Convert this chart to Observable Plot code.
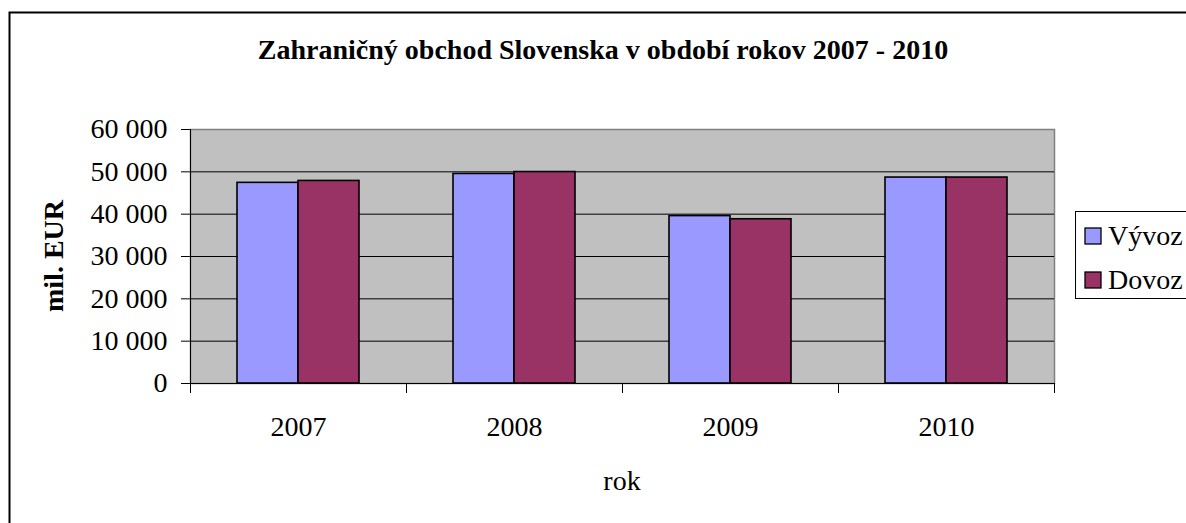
<!DOCTYPE html>
<html>
<head>
<meta charset="utf-8">
<script src="https://cdn.jsdelivr.net/npm/d3@7"></script>
<script src="https://cdn.jsdelivr.net/npm/@observablehq/plot@0.6"></script>
<style>
  html, body { margin: 0; padding: 0; background: #fff; }
  #chart { width: 1186px; height: 523px; overflow: hidden; }
  .boldserif { font-family: "Liberation Serif"; font-weight: 700; font-size: 28px; }
</style>
</head>
<body>
<div id="chart"></div>
<script>
// ---- data ----
const years = ["2007", "2008", "2009", "2010"];
const seriesNames = ["Vývoz", "Dovoz"];
const vyvoz = [47400, 49500, 39550, 48650];
const dovoz = [47850, 49950, 38800, 48650];
const yTicks = [0, 10000, 20000, 30000, 40000, 50000, 60000];
const titleText = "Zahraničný obchod Slovenska v období rokov 2007 - 2010";
const yLabel = "mil. EUR";
const xLabel = "rok";
const colors = ["#9999ff", "#993366"];

const rows = [];
years.forEach((yr, i) => {
  rows.push({year: yr, series: seriesNames[0], value: vyvoz[i]});
  rows.push({year: yr, series: seriesNames[1], value: dovoz[i]});
});

// ---- layout ----
const W = 1186, H = 523;
const mL = 189, mR = 131, mT = 129, mB = 140;
const plotH = H - mT - mB;
const font = "Liberation Serif";
const fmt = d => d3.format(",")(d).replace(/,/g, " ");

const chart = Plot.plot({
  width: W,
  height: H,
  marginLeft: mL,
  marginRight: mR,
  marginTop: mT,
  marginBottom: mB,
  style: {fontFamily: font, fontSize: "28px", color: "#000", background: "transparent"},
  fx: {domain: years, padding: 0, tickSize: 0, tickPadding: 33, label: null},
  x: {domain: seriesNames, paddingInner: 0, paddingOuter: 0.746, axis: null},
  y: {domain: [0, 60000], ticks: yTicks, tickFormat: fmt, tickSize: 9, tickPadding: 14, label: null},
  color: {domain: seriesNames, range: colors},
  marks: [
    Plot.frame({facet: "super", fill: "#c0c0c0", stroke: "#808080", strokeWidth: 1.5}),
    Plot.ruleY(yTicks.filter(t => t > 0 && t < 60000), {stroke: "#000", strokeWidth: 1}),
    Plot.barY(rows, {fx: "year", x: "series", y: "value", fill: "series", stroke: "#000", strokeWidth: 1.6}),
    Plot.frame({facet: "super", anchor: "left", stroke: "#000", strokeWidth: 1}),
    Plot.frame({facet: "super", anchor: "bottom", stroke: "#000", strokeWidth: 1}),
    Plot.frame({anchor: "left", insetTop: plotH, insetBottom: -9, stroke: "#000", strokeWidth: 1}),
    Plot.frame({anchor: "right", insetTop: plotH, insetBottom: -9, stroke: "#000", strokeWidth: 1})
  ]
});

document.getElementById("chart").appendChild(chart);

// ---- decorations: outer frame, title, axis titles, legend ----
const svg = d3.select(chart.tagName.toLowerCase() === "svg" ? chart : chart.querySelector("svg"));

svg.insert("rect", ":first-child")
  .attr("x", 9.5).attr("y", 12.5)
  .attr("width", W + 50).attr("height", H + 50)
  .attr("fill", "#fff").attr("stroke", "#000").attr("stroke-width", 2);

svg.append("text")
  .attr("class", "boldserif")
  .attr("x", 603).attr("y", 59)
  .attr("text-anchor", "middle")
  .attr("fill", "#000")
  .text(titleText);

svg.append("text")
  .attr("class", "boldserif")
  .attr("transform", `translate(63,256) rotate(-90)`)
  .attr("text-anchor", "middle")
  .attr("fill", "#000")
  .text(yLabel);

svg.append("text")
  .attr("x", mL + (W - mL - mR) / 2).attr("y", 490)
  .attr("text-anchor", "middle")
  .attr("font-family", font).attr("font-size", 28)
  .attr("fill", "#000")
  .text(xLabel);

const lg = svg.append("g");
lg.append("rect")
  .attr("x", 1075.5).attr("y", 211.5).attr("width", 200).attr("height", 87)
  .attr("fill", "#fff").attr("stroke", "#000").attr("stroke-width", 1);
seriesNames.forEach((s, i) => {
  const y0 = 228 + i * 44;
  lg.append("rect")
    .attr("x", 1085).attr("y", y0).attr("width", 16).attr("height", 16)
    .attr("fill", colors[i]).attr("stroke", "#000").attr("stroke-width", 1.3);
  lg.append("text")
    .attr("x", 1108).attr("y", y0 + 17)
    .attr("text-anchor", "start")
    .attr("font-family", font).attr("font-size", 28)
    .attr("fill", "#000")
    .text(s);
});
</script>
</body>
</html>
